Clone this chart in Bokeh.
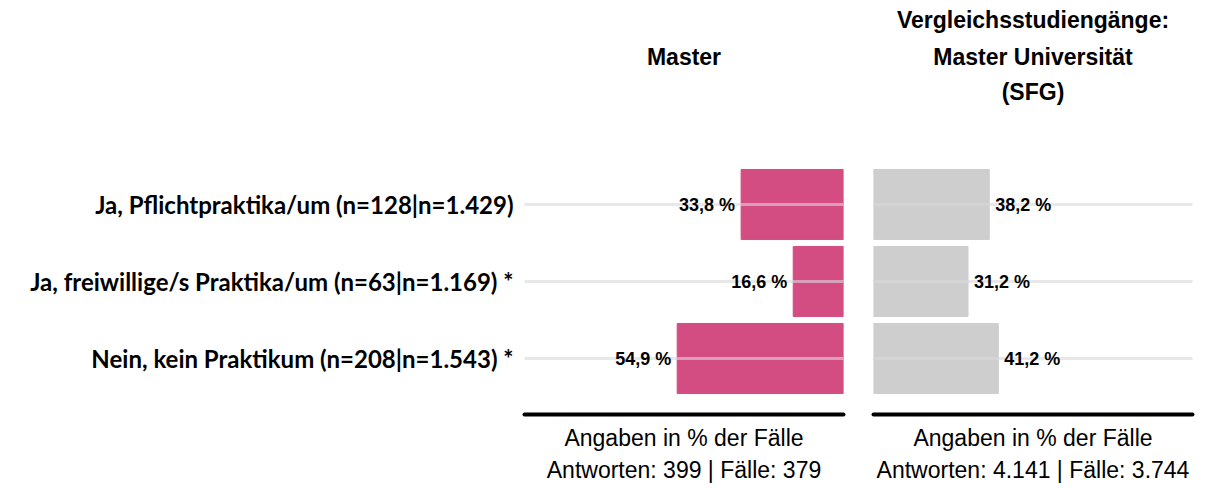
from bokeh.plotting import figure
from bokeh.models import Range1d, ColumnDataSource, FixedTicker, Grid
from bokeh.layouts import row
from bokeh.embed import file_html
from bokeh.resources import INLINE
from bokeh.core.properties import value

# ---- data ----
categories = [
    "Ja, Pflichtpraktika/um (n=128|n=1.429)",
    "Ja, freiwillige/s Praktika/um (n=63|n=1.169) *",
    "Nein, kein Praktikum (n=208|n=1.543) *",
]
master_values = [33.8, 16.6, 54.9]
compare_values = [38.2, 31.2, 41.2]
left_title = ["Master"]
right_title = ["Vergleichsstudiengänge:", "Master Universität", "(SFG)"]
left_axis_text = "Angaben in % der Fälle\nAntworten: 399 | Fälle: 379"
right_axis_text = "Angaben in % der Fälle\nAntworten: 4.141 | Fälle: 3.744"

PINK = "#d44d82"
GRAY = "#cecece"
XMAX = 105.3
ypos = [2, 1, 0]
UNIT = 77.0
Y0 = -56 / UNIT
Y1 = 358 / UNIT


def fmt(v):
    return f"{v:.1f} %".replace(".", ",")


def title_y(pix):
    # pixel offset from frame top -> data coordinate
    return Y1 - pix / UNIT


def make_fig(values, color, reverse, axis_text, titles, title_pix, show_y, border_left, border_right):
    src = ColumnDataSource(dict(y=ypos, v=values, lab=[fmt(v) for v in values]))
    xr = Range1d(XMAX, 0) if reverse else Range1d(0, XMAX)
    p = figure(x_range=xr, y_range=Range1d(Y0, Y1), frame_width=319, frame_height=414,
               output_backend="svg", toolbar_location=None,
               min_border_left=border_left, min_border_right=border_right,
               min_border_top=0, min_border_bottom=0)
    p.outline_line_color = None
    p.background_fill_color = "white"
    p.border_fill_color = "white"

    p.hbar(y="y", left=0, right="v", height=0.91, color=color, source=src)

    # grid drawn over bars but below the value labels
    p.ygrid.visible = False
    p.xgrid.visible = False
    g = Grid(dimension=1, ticker=FixedTicker(ticks=ypos), grid_line_color="#d8d8d8",
             grid_line_alpha=0.6, grid_line_width=3, level="guide")
    p.add_layout(g)

    t = p.text(x="v", y="y", text="lab", source=src,
               x_offset=-6 if reverse else 6,
               text_align="right" if reverse else "left", text_baseline="middle",
               text_font=value("Liberation Sans"), text_font_style="bold",
               text_font_size="18px", text_color="black")
    t.level = "annotation"

    tx = [XMAX / 2] * len(titles)
    ty = [title_y(px) for px in title_pix]
    p.text(x=tx, y=ty, text=titles, text_align="center", text_baseline="middle",
           text_font=value("Liberation Sans"), text_font_style="bold",
           text_font_size="23px", text_color="black")

    xa = p.xaxis[0]
    xa.ticker = FixedTicker(ticks=[])
    xa.axis_line_color = "black"
    xa.axis_line_width = 4
    xa.axis_line_cap = "round"
    xa.major_tick_line_color = None
    xa.minor_tick_line_color = None
    xa.axis_label = axis_text
    xa.axis_label_text_font = "Liberation Sans"
    xa.axis_label_text_font_style = "normal"
    xa.axis_label_text_font_size = "23px"
    xa.axis_label_text_color = "black"
    xa.axis_label_text_line_height = 1.24
    xa.axis_label_standoff = 10
    xa.major_label_standoff = 0
    xa.major_tick_out = 0

    ya = p.yaxis[0]
    if show_y:
        ya.ticker = FixedTicker(ticks=ypos)
        ya.major_label_overrides = {y: c for y, c in zip(ypos, categories)}
        ya.axis_line_color = None
        ya.major_tick_line_color = None
        ya.minor_tick_line_color = None
        ya.major_tick_out = 0
        ya.major_label_standoff = 11
        ya.major_label_text_font = "Lato"
        ya.major_label_text_font_style = "bold"
        ya.major_label_text_font_size = "24px"
        ya.major_label_text_color = "black"
    else:
        ya.visible = False
    return p


p1 = make_fig(master_values, PINK, True, left_axis_text, left_title, [56],
              True, 524, 15)
p2 = make_fig(compare_values, GRAY, False, right_axis_text, right_title, [19, 56, 91],
              False, 15, 10)

layout = row(p1, p2)
open("out.html", "w").write(file_html(layout, INLINE))
